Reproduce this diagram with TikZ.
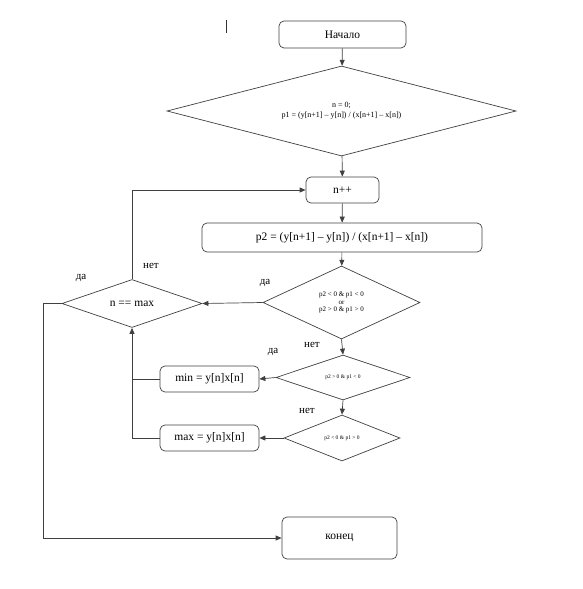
\documentclass[tikz,border=0pt]{standalone}
\usepackage{fontspec}
\setmainfont{Liberation Serif}
\usetikzlibrary{shapes.geometric,arrows.meta}
\begin{document}
\begin{tikzpicture}[x=1pt,y=-1pt,
  ln/.style={draw=black!75, line width=0.7pt},
  arr/.style={ln, -{Triangle[length=6pt,width=5pt]}},
  rbox/.style={ln, rounded corners=5pt, inner sep=0pt, font=\fontsize{11.5}{13}\selectfont},
  dia/.style={ln, diamond, inner sep=0pt, align=center},
  lbl/.style={font=\fontsize{11}{12}\selectfont, inner sep=0pt}]
\useasboundingbox (0,0) rectangle (582,589);
\draw[black!80, line width=0.7pt] (226,20) -- (226,33);
\node[rbox, minimum width=127pt, minimum height=27pt] (start) at (342.5,34.5) {Начало};
\node[dia, shape aspect=4, minimum width=349pt, minimum height=90pt, font=\fontsize{8}{10}\selectfont] (d1) at (341.5,111) {n = 0;\\p1 = (y[n+1] – y[n]) / (x[n+1] – x[n])};
\node[rbox, minimum width=73pt, minimum height=26pt] (inc) at (342.5,190) {n++};
\node[rbox, minimum width=280pt, minimum height=29pt] (p2) at (342,237.5) {p2 = (y[n+1] – y[n]) / (x[n+1] – x[n])};
\node[dia, shape aspect=2, minimum width=157pt, minimum height=73pt, font=\fontsize{7}{7.5}\selectfont] (d2) at (341.5,302.5) {p2 < 0 \& p1 < 0\\or\\p2 > 0 \& p1 > 0};
\node[dia, shape aspect=3, minimum width=140pt, minimum height=48pt, font=\fontsize{11.5}{13}\selectfont] (dm) at (132,303.5) {n == max};
\node[dia, shape aspect=3, minimum width=134pt, minimum height=45pt, font=\fontsize{5.5}{6}\selectfont] (d3) at (343,377.5) {p2 > 0 \& p1 < 0};
\node[rbox, minimum width=99pt, minimum height=26pt] (mn) at (209.5,379) {min = y[n]x[n]};
\node[dia, shape aspect=3, minimum width=116pt, minimum height=46pt, font=\fontsize{5.5}{6}\selectfont] (d4) at (342,438) {p2 < 0 \& p1 > 0};
\node[rbox, minimum width=99pt, minimum height=26pt] (mx) at (209.5,438) {max = y[n]x[n]};
\node[rbox, minimum width=115pt, minimum height=42pt] (end) at (339.5,538) {конец};
\coordinate (c1) at (132,190);
\coordinate (c2) at (43,303.5);
\coordinate (c3) at (43,538);
\coordinate (c4) at (132,379);
\coordinate (c5) at (132,438);
\draw[arr] (start) -- (d1);
\draw[arr] (d1) -- (inc);
\draw[arr] (inc) -- (p2);
\draw[arr] (p2) -- (d2);
\draw[arr] (d2.west) -- (dm.east);
\draw[arr] (dm.north) -- (c1) -- (inc.west);
\draw[arr] (dm.west) -- (c2) -- (c3) -- (end.west);
\draw[arr] (d2.south) -- (d3.north);
\draw[arr] (d3.west) -- (mn.east);
\draw[arr] (d3.south) -- (d4.north);
\draw[arr] (d4.west) -- (mx.east);
\draw[ln] (mn.west) -- (c4);
\draw[arr] (mx.west) -- (c5) -- (dm.south);
\node[lbl] (l1) at (265,283) {да};
\node[lbl] (l2) at (151,266) {нет};
\node[lbl] (l3) at (81,278) {да};
\node[lbl] (l4) at (312,345) {нет};
\node[lbl] (l5) at (273,352) {да};
\node[lbl] (l6) at (307,411) {нет};
\end{tikzpicture}
\end{document}
